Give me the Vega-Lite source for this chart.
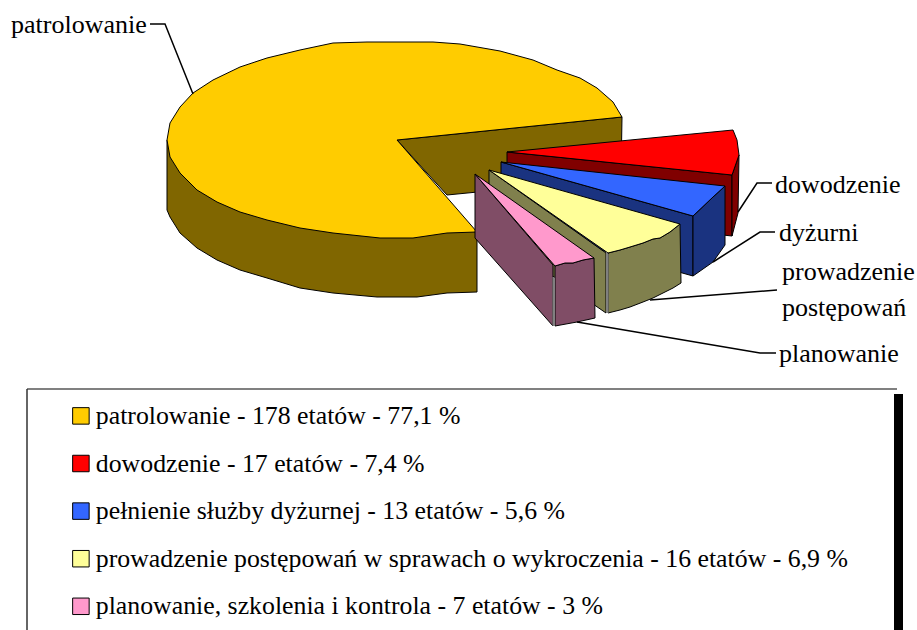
{"$schema":"https://vega.github.io/schema/vega-lite/v6.json","width":917,"height":630,"padding":0,"autosize":"none","background":"white",
"config":{"view":{"stroke":null},"axis":{"disable":true}},
"datasets":{
"faces":[
{"slice":"p","face":"inner","i":0,"x":397,"y":140},{"slice":"p","face":"inner","i":1,"x":622,"y":117},{"slice":"p","face":"inner","i":2,"x":621,"y":178},{"slice":"p","face":"inner","i":3,"x":447,"y":195},{"slice":"p","face":"inner","i":4,"x":397,"y":140},
{"slice":"p","face":"outer","i":0,"x":167,"y":140},{"slice":"p","face":"outer","i":1,"x":167,"y":210},{"slice":"p","face":"outer","i":2,"x":170,"y":217},{"slice":"p","face":"outer","i":3,"x":180,"y":233},{"slice":"p","face":"outer","i":4,"x":197,"y":248},{"slice":"p","face":"outer","i":5,"x":217,"y":260},{"slice":"p","face":"outer","i":6,"x":240,"y":270},{"slice":"p","face":"outer","i":7,"x":267,"y":278},{"slice":"p","face":"outer","i":8,"x":300,"y":288},{"slice":"p","face":"outer","i":9,"x":333,"y":293},{"slice":"p","face":"outer","i":10,"x":377,"y":297},{"slice":"p","face":"outer","i":11,"x":417,"y":297},{"slice":"p","face":"outer","i":12,"x":447,"y":293},{"slice":"p","face":"outer","i":13,"x":477,"y":292},{"slice":"p","face":"outer","i":14,"x":477,"y":232},{"slice":"p","face":"outer","i":15,"x":167,"y":140},
{"slice":"r","face":"inner","i":0,"x":507,"y":152},{"slice":"r","face":"inner","i":1,"x":507,"y":212},{"slice":"r","face":"inner","i":2,"x":732,"y":236},{"slice":"r","face":"inner","i":3,"x":732,"y":175},{"slice":"r","face":"inner","i":4,"x":507,"y":152},
{"slice":"r","face":"outer","i":0,"x":732,"y":175},{"slice":"r","face":"outer","i":1,"x":739,"y":155},{"slice":"r","face":"outer","i":2,"x":738,"y":213},{"slice":"r","face":"outer","i":3,"x":732,"y":236},{"slice":"r","face":"outer","i":4,"x":732,"y":175},
{"slice":"b","face":"inner","i":0,"x":501,"y":162},{"slice":"b","face":"inner","i":1,"x":693,"y":216},{"slice":"b","face":"inner","i":2,"x":693,"y":276},{"slice":"b","face":"inner","i":3,"x":501,"y":222},{"slice":"b","face":"inner","i":4,"x":501,"y":162},
{"slice":"b","face":"outer","i":0,"x":693,"y":216},{"slice":"b","face":"outer","i":1,"x":713,"y":197},{"slice":"b","face":"outer","i":2,"x":725,"y":186},{"slice":"b","face":"outer","i":3,"x":725,"y":245},{"slice":"b","face":"outer","i":4,"x":713,"y":262},{"slice":"b","face":"outer","i":5,"x":693,"y":276},{"slice":"b","face":"outer","i":6,"x":693,"y":216},
{"slice":"y","face":"inner","i":0,"x":489,"y":170},{"slice":"y","face":"inner","i":1,"x":606,"y":253},{"slice":"y","face":"inner","i":2,"x":606,"y":313},{"slice":"y","face":"inner","i":3,"x":489,"y":232},{"slice":"y","face":"inner","i":4,"x":489,"y":170},
{"slice":"y","face":"outer","i":0,"x":608,"y":253},{"slice":"y","face":"outer","i":1,"x":620,"y":250},{"slice":"y","face":"outer","i":2,"x":630,"y":247},{"slice":"y","face":"outer","i":3,"x":643,"y":243},{"slice":"y","face":"outer","i":4,"x":653,"y":239},{"slice":"y","face":"outer","i":5,"x":660,"y":238},{"slice":"y","face":"outer","i":6,"x":670,"y":232},{"slice":"y","face":"outer","i":7,"x":680,"y":224},{"slice":"y","face":"outer","i":8,"x":681,"y":283},{"slice":"y","face":"outer","i":9,"x":673,"y":288},{"slice":"y","face":"outer","i":10,"x":653,"y":298},{"slice":"y","face":"outer","i":11,"x":643,"y":302},{"slice":"y","face":"outer","i":12,"x":630,"y":307},{"slice":"y","face":"outer","i":13,"x":620,"y":310},{"slice":"y","face":"outer","i":14,"x":608,"y":313},{"slice":"y","face":"outer","i":15,"x":608,"y":253},
{"slice":"k","face":"inner","i":0,"x":475,"y":174},{"slice":"k","face":"inner","i":1,"x":553,"y":265},{"slice":"k","face":"inner","i":2,"x":553,"y":326},{"slice":"k","face":"inner","i":3,"x":475,"y":238},{"slice":"k","face":"inner","i":4,"x":475,"y":174},
{"slice":"k","face":"outer","i":0,"x":555,"y":266},{"slice":"k","face":"outer","i":1,"x":565,"y":263},{"slice":"k","face":"outer","i":2,"x":573,"y":263},{"slice":"k","face":"outer","i":3,"x":583,"y":260},{"slice":"k","face":"outer","i":4,"x":594,"y":258},{"slice":"k","face":"outer","i":5,"x":595,"y":318},{"slice":"k","face":"outer","i":6,"x":577,"y":322},{"slice":"k","face":"outer","i":7,"x":555,"y":326},{"slice":"k","face":"outer","i":8,"x":555,"y":266}
],
"tops":[
{"slice":"patrolowanie - 178 etatów - 77,1 %","i":0,"x":397,"y":140},{"slice":"patrolowanie - 178 etatów - 77,1 %","i":1,"x":622,"y":117},{"slice":"patrolowanie - 178 etatów - 77,1 %","i":2,"x":613,"y":102},{"slice":"patrolowanie - 178 etatów - 77,1 %","i":3,"x":597,"y":88},{"slice":"patrolowanie - 178 etatów - 77,1 %","i":4,"x":580,"y":78},{"slice":"patrolowanie - 178 etatów - 77,1 %","i":5,"x":557,"y":70},{"slice":"patrolowanie - 178 etatów - 77,1 %","i":6,"x":533,"y":60},{"slice":"patrolowanie - 178 etatów - 77,1 %","i":7,"x":500,"y":51},{"slice":"patrolowanie - 178 etatów - 77,1 %","i":8,"x":460,"y":44},{"slice":"patrolowanie - 178 etatów - 77,1 %","i":9,"x":433,"y":42},{"slice":"patrolowanie - 178 etatów - 77,1 %","i":10,"x":367,"y":42},{"slice":"patrolowanie - 178 etatów - 77,1 %","i":11,"x":333,"y":43},{"slice":"patrolowanie - 178 etatów - 77,1 %","i":12,"x":300,"y":50},{"slice":"patrolowanie - 178 etatów - 77,1 %","i":13,"x":267,"y":58},{"slice":"patrolowanie - 178 etatów - 77,1 %","i":14,"x":240,"y":67},{"slice":"patrolowanie - 178 etatów - 77,1 %","i":15,"x":213,"y":80},{"slice":"patrolowanie - 178 etatów - 77,1 %","i":16,"x":193,"y":93},{"slice":"patrolowanie - 178 etatów - 77,1 %","i":17,"x":180,"y":107},{"slice":"patrolowanie - 178 etatów - 77,1 %","i":18,"x":170,"y":123},{"slice":"patrolowanie - 178 etatów - 77,1 %","i":19,"x":167,"y":140},{"slice":"patrolowanie - 178 etatów - 77,1 %","i":20,"x":170,"y":157},{"slice":"patrolowanie - 178 etatów - 77,1 %","i":21,"x":180,"y":173},{"slice":"patrolowanie - 178 etatów - 77,1 %","i":22,"x":197,"y":190},{"slice":"patrolowanie - 178 etatów - 77,1 %","i":23,"x":217,"y":202},{"slice":"patrolowanie - 178 etatów - 77,1 %","i":24,"x":240,"y":212},{"slice":"patrolowanie - 178 etatów - 77,1 %","i":25,"x":267,"y":220},{"slice":"patrolowanie - 178 etatów - 77,1 %","i":26,"x":300,"y":228},{"slice":"patrolowanie - 178 etatów - 77,1 %","i":27,"x":333,"y":233},{"slice":"patrolowanie - 178 etatów - 77,1 %","i":28,"x":380,"y":238},{"slice":"patrolowanie - 178 etatów - 77,1 %","i":29,"x":413,"y":238},{"slice":"patrolowanie - 178 etatów - 77,1 %","i":30,"x":447,"y":233},{"slice":"patrolowanie - 178 etatów - 77,1 %","i":31,"x":477,"y":232},{"slice":"patrolowanie - 178 etatów - 77,1 %","i":32,"x":397,"y":140},
{"slice":"dowodzenie - 17 etatów - 7,4 %","i":0,"x":507,"y":152},{"slice":"dowodzenie - 17 etatów - 7,4 %","i":1,"x":733,"y":130},{"slice":"dowodzenie - 17 etatów - 7,4 %","i":2,"x":737,"y":140},{"slice":"dowodzenie - 17 etatów - 7,4 %","i":3,"x":739,"y":155},{"slice":"dowodzenie - 17 etatów - 7,4 %","i":4,"x":732,"y":175},{"slice":"dowodzenie - 17 etatów - 7,4 %","i":5,"x":507,"y":152},
{"slice":"pełnienie służby dyżurnej - 13 etatów - 5,6 %","i":0,"x":501,"y":162},{"slice":"pełnienie służby dyżurnej - 13 etatów - 5,6 %","i":1,"x":725,"y":186},{"slice":"pełnienie służby dyżurnej - 13 etatów - 5,6 %","i":2,"x":713,"y":197},{"slice":"pełnienie służby dyżurnej - 13 etatów - 5,6 %","i":3,"x":693,"y":216},{"slice":"pełnienie służby dyżurnej - 13 etatów - 5,6 %","i":4,"x":501,"y":162},
{"slice":"prowadzenie postępowań w sprawach o wykroczenia - 16 etatów - 6,9 %","i":0,"x":489,"y":170},{"slice":"prowadzenie postępowań w sprawach o wykroczenia - 16 etatów - 6,9 %","i":1,"x":680,"y":224},{"slice":"prowadzenie postępowań w sprawach o wykroczenia - 16 etatów - 6,9 %","i":2,"x":670,"y":232},{"slice":"prowadzenie postępowań w sprawach o wykroczenia - 16 etatów - 6,9 %","i":3,"x":660,"y":238},{"slice":"prowadzenie postępowań w sprawach o wykroczenia - 16 etatów - 6,9 %","i":4,"x":653,"y":239},{"slice":"prowadzenie postępowań w sprawach o wykroczenia - 16 etatów - 6,9 %","i":5,"x":643,"y":243},{"slice":"prowadzenie postępowań w sprawach o wykroczenia - 16 etatów - 6,9 %","i":6,"x":630,"y":247},{"slice":"prowadzenie postępowań w sprawach o wykroczenia - 16 etatów - 6,9 %","i":7,"x":620,"y":250},{"slice":"prowadzenie postępowań w sprawach o wykroczenia - 16 etatów - 6,9 %","i":8,"x":608,"y":253},{"slice":"prowadzenie postępowań w sprawach o wykroczenia - 16 etatów - 6,9 %","i":9,"x":489,"y":170},
{"slice":"planowanie, szkolenia i kontrola - 7 etatów - 3 %","i":0,"x":475,"y":174},{"slice":"planowanie, szkolenia i kontrola - 7 etatów - 3 %","i":1,"x":594,"y":258},{"slice":"planowanie, szkolenia i kontrola - 7 etatów - 3 %","i":2,"x":583,"y":260},{"slice":"planowanie, szkolenia i kontrola - 7 etatów - 3 %","i":3,"x":573,"y":263},{"slice":"planowanie, szkolenia i kontrola - 7 etatów - 3 %","i":4,"x":565,"y":263},{"slice":"planowanie, szkolenia i kontrola - 7 etatów - 3 %","i":5,"x":555,"y":266},{"slice":"planowanie, szkolenia i kontrola - 7 etatów - 3 %","i":6,"x":475,"y":174}
],
"leaders":[
{"id":"patrolowanie","i":0,"x":150,"y":24},{"id":"patrolowanie","i":1,"x":165,"y":24},{"id":"patrolowanie","i":2,"x":193,"y":94},
{"id":"dowodzenie","i":0,"x":738,"y":212},{"id":"dowodzenie","i":1,"x":757,"y":183},{"id":"dowodzenie","i":2,"x":772,"y":183},
{"id":"dyzurni","i":0,"x":713,"y":262},{"id":"dyzurni","i":1,"x":760,"y":232},{"id":"dyzurni","i":2,"x":775,"y":232},
{"id":"prowadzenie","i":0,"x":650,"y":300},{"id":"prowadzenie","i":1,"x":777,"y":290},
{"id":"planowanie","i":0,"x":577,"y":322},{"id":"planowanie","i":1,"x":760,"y":353},{"id":"planowanie","i":2,"x":776,"y":353}
],
"edges":[
{"id":"a","i":0,"x":607.5,"y":254},{"id":"a","i":1,"x":607.5,"y":313},
{"id":"b","i":0,"x":553.5,"y":277},{"id":"b","i":1,"x":553.5,"y":326}
],
"labels":[
{"text":"patrolowanie","x":11,"y":33},{"text":"dowodzenie","x":775,"y":193},{"text":"dyżurni","x":779,"y":241},{"text":"prowadzenie","x":782,"y":280},{"text":"postępowań","x":782,"y":316},{"text":"planowanie","x":779,"y":362}
],
"frameTop":[{"x":27,"x2":897,"y":389}],
"frameLeft":[{"x":27,"y":389,"y2":630}],
"bar":[{"x":894,"x2":903,"y":394,"y2":630}]
},
"encoding":{
"x":{"field":"x","type":"quantitative","scale":{"domain":[0,917]},"axis":null},
"y":{"field":"y","type":"quantitative","scale":{"domain":[630,0]},"axis":null},
"order":{"field":"i","type":"quantitative"}
},
"layer":[
{"data":{"name":"faces"},"transform":[{"filter":"datum.slice=='p'"}],"mark":{"type":"line","filled":true,"fill":"#806600","stroke":"black","strokeWidth":1,"interpolate":"linear"},"encoding":{"detail":{"field":"face"}}},
{"data":{"name":"tops"},"transform":[{"filter":"indexof(datum.slice,'patrolowanie')==0"}],"mark":{"type":"line","filled":true,"stroke":"black","strokeWidth":1},"encoding":{"color":{"field":"slice","type":"nominal","scale":{"domain":["patrolowanie - 178 etatów - 77,1 %","dowodzenie - 17 etatów - 7,4 %","pełnienie służby dyżurnej - 13 etatów - 5,6 %","prowadzenie postępowań w sprawach o wykroczenia - 16 etatów - 6,9 %","planowanie, szkolenia i kontrola - 7 etatów - 3 %"],"range":["#ffcc00","#ff0000","#3366ff","#ffff99","#ff99cc"]},"legend":{"orient":"none","legendX":68,"legendY":403,"title":null,"padding":0,"symbolType":"square","symbolSize":272,"symbolStrokeColor":"black","symbolStrokeWidth":1,"symbolOpacity":1,"labelFont":"Liberation Serif","labelFontSize":25.8,"labelColor":"#000","labelOffset":2,"labelLimit":900,"rowPadding":20.6,"columnPadding":0}}}},
{"data":{"name":"faces"},"transform":[{"filter":"datum.slice=='r'"}],"mark":{"type":"line","filled":true,"fill":"#800000","stroke":"black","strokeWidth":1},"encoding":{"detail":{"field":"face"}}},
{"data":{"name":"tops"},"transform":[{"filter":"indexof(datum.slice,'dowodzenie')==0"}],"mark":{"type":"line","filled":true,"stroke":"black","strokeWidth":1},"encoding":{"color":{"field":"slice","type":"nominal"}}},
{"data":{"name":"faces"},"transform":[{"filter":"datum.slice=='b'"}],"mark":{"type":"line","filled":true,"fill":"#1a3380","stroke":"black","strokeWidth":1},"encoding":{"detail":{"field":"face"}}},
{"data":{"name":"tops"},"transform":[{"filter":"indexof(datum.slice,'pełnienie')==0"}],"mark":{"type":"line","filled":true,"stroke":"black","strokeWidth":1},"encoding":{"color":{"field":"slice","type":"nominal"}}},
{"data":{"name":"faces"},"transform":[{"filter":"datum.slice=='y'"}],"mark":{"type":"line","filled":true,"fill":"#80804d","stroke":"black","strokeWidth":1},"encoding":{"detail":{"field":"face"}}},
{"data":{"name":"tops"},"transform":[{"filter":"indexof(datum.slice,'prowadzenie')==0"}],"mark":{"type":"line","filled":true,"stroke":"black","strokeWidth":1},"encoding":{"color":{"field":"slice","type":"nominal"}}},
{"data":{"name":"faces"},"transform":[{"filter":"datum.slice=='k'"}],"mark":{"type":"line","filled":true,"fill":"#804d66","stroke":"black","strokeWidth":1},"encoding":{"detail":{"field":"face"}}},
{"data":{"name":"tops"},"transform":[{"filter":"indexof(datum.slice,'planowanie')==0"}],"mark":{"type":"line","filled":true,"stroke":"black","strokeWidth":1},"encoding":{"color":{"field":"slice","type":"nominal"}}},
{"data":{"name":"edges"},"mark":{"type":"line","stroke":"#808080","strokeWidth":2},"encoding":{"detail":{"field":"id"}}},
{"data":{"name":"leaders"},"mark":{"type":"line","stroke":"black","strokeWidth":1.5},"encoding":{"detail":{"field":"id"}}},
{"data":{"name":"labels"},"mark":{"type":"text","align":"left","baseline":"alphabetic","font":"Liberation Serif","fontSize":26,"fill":"black"},"encoding":{"text":{"field":"text"},"order":null}},
{"data":{"name":"frameTop"},"mark":{"type":"rule","stroke":"#808080","strokeWidth":2},"encoding":{"x2":{"field":"x2"},"order":null}},
{"data":{"name":"frameLeft"},"mark":{"type":"rule","stroke":"#333333","strokeWidth":1.5},"encoding":{"y2":{"field":"y2"},"order":null}},
{"data":{"name":"bar"},"mark":{"type":"rect","fill":"black"},"encoding":{"x2":{"field":"x2"},"y2":{"field":"y2"},"order":null}}
]}
